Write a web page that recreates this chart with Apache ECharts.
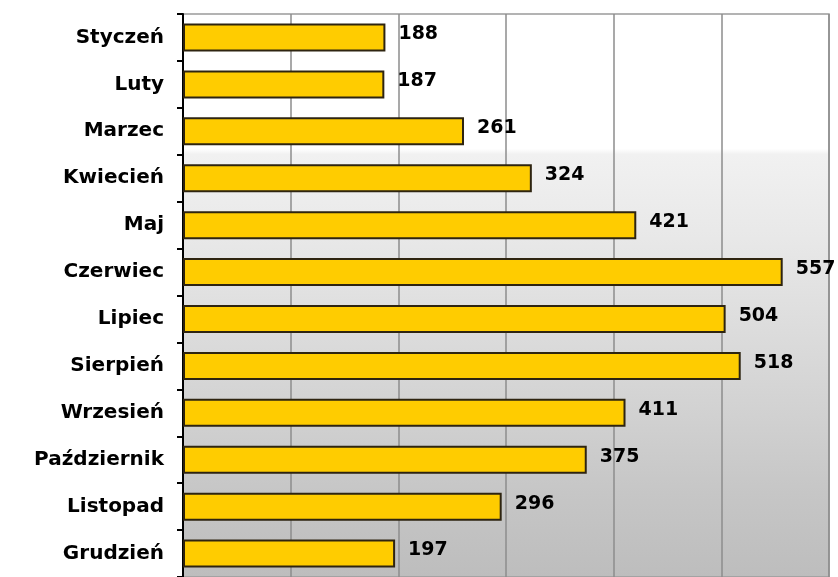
<!DOCTYPE html>
<html>
<head>
<meta charset="utf-8">
<script src="https://cdn.jsdelivr.net/npm/echarts@6/dist/echarts.min.js"></script>
<style>
  html, body { margin: 0; padding: 0; background: #fff; }
  #chart { width: 838px; height: 577px; }
</style>
</head>
<body>
<div id="chart"></div>
<script>
const months = ['Styczeń', 'Luty', 'Marzec', 'Kwiecień', 'Maj', 'Czerwiec', 'Lipiec',
  'Sierpień', 'Wrzesień', 'Październik', 'Listopad', 'Grudzień'];
const values = [188, 187, 261, 324, 421, 557, 504, 518, 411, 375, 296, 197];

const labelFont = '"DejaVu Sans", sans-serif';

const chart = echarts.init(document.getElementById('chart'));

// stepped grey gradient behind the plot, white at the top
const bg = new echarts.graphic.LinearGradient(0, 0, 0, 1, [
  { offset: 0, color: '#ffffff' },
  { offset: 0.24, color: '#ffffff' },
  { offset: 0.25, color: '#f1f1f1' },
  { offset: 0.4, color: '#e8e8e8' },
  { offset: 0.55, color: '#dddddd' },
  { offset: 0.7, color: '#d2d2d2' },
  { offset: 0.85, color: '#c6c6c6' },
  { offset: 1, color: '#bdbdbd' }
]);

const option = {
  animation: false,
  grid: {
    left: 183,
    right: 9,
    top: 14,
    bottom: 0,
    show: true,
    backgroundColor: bg,
    borderColor: '#9a9a9a',
    borderWidth: 1.5
  },
  xAxis: {
    type: 'value',
    min: 0,
    max: 600,
    interval: 100,
    axisLabel: { show: false },
    axisLine: { show: false },
    axisTick: { show: false },
    splitLine: { show: true, lineStyle: { color: '#8c8c8c', width: 1.5 } }
  },
  yAxis: {
    type: 'category',
    data: months,
    inverse: true,
    axisLine: { show: true, lineStyle: { color: '#000', width: 2 } },
    axisTick: { show: true, length: 6, lineStyle: { color: '#000', width: 2 } },
    axisLabel: {
      color: '#000',
      fontFamily: labelFont,
      fontWeight: 'bold',
      fontSize: 20,
      margin: 19
    }
  },
  series: [{
    type: 'bar',
    data: values,
    barWidth: 28,
    itemStyle: {
      color: '#ffcc00',
      borderColor: '#2e2410',
      borderWidth: 2
    },
    label: {
      show: true,
      position: 'right',
      distance: 13,
      offset: [0, -3],
      color: '#000',
      fontFamily: labelFont,
      fontWeight: 'bold',
      fontSize: 19
    }
  }]
};

chart.setOption(option);
</script>
</body>
</html>
